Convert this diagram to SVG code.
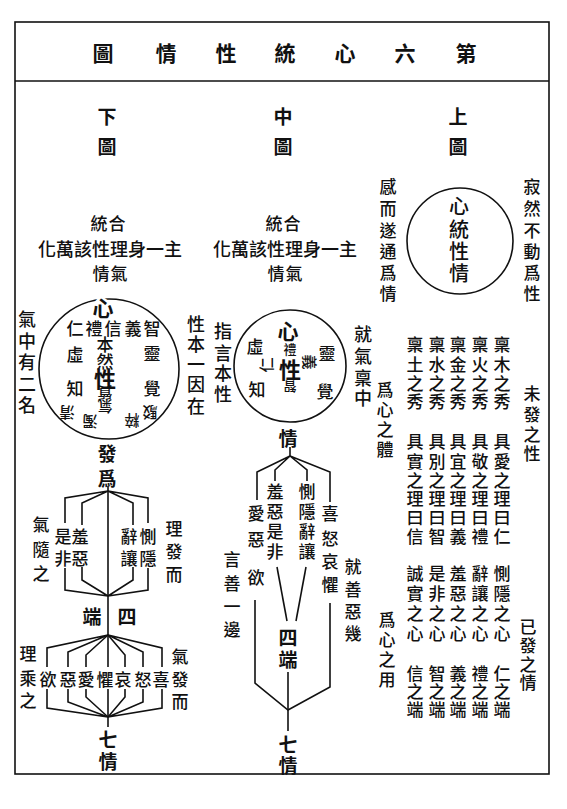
<svg xmlns="http://www.w3.org/2000/svg" width="567" height="809" viewBox="0 0 567 809">
<style>
text{font-family:"Noto Sans CJK TC","Noto Sans CJK SC",sans-serif;fill:#111;text-anchor:middle;dominant-baseline:central;font-size:17px;font-weight:500}
.t{font-size:21px;font-weight:bold}
.h{font-size:19px;font-weight:bold}
.big{font-size:22px;font-weight:bold}
.sm{font-size:13px}
.r{font-size:15px}
.ko{stroke:#fff;stroke-width:5px;paint-order:stroke}
.ln{fill:none;stroke:#111;stroke-width:1.6}
</style>
<rect width="567" height="809" fill="#fff"/>
<g id="frame">
<rect x="15" y="22" width="534" height="752" class="ln" stroke-width="2"/>
<line x1="15" y1="81" x2="549" y2="81" class="ln" stroke-width="2"/>
</g>
<g id="title"><text class="t" x="103 166 226 285 345 405 466" y="52">圖情性統心六第</text></g>
<g id="headers">
<text class="h" x="107 107" y="115 145">下圖</text>
<text class="h" x="283 283" y="115 145">中圖</text>
<text class="h" x="458 458" y="115 145">上圖</text>
</g>
<g id="upper-diagram">
<circle cx="460" cy="241" r="53" class="ln"/>
<text x="459 459 459 459" y="205 228 250 272" style="font-size:20px">心統性情</text>
<text x="388 388 388 388 388 388" y="185 207 229 250 271 292">感而遂通爲情</text>
<text x="532 532 532 532 532 532" y="185 207 229 250 271 292">寂然不動爲性</text>
</g>
<g id="upper-text">
<text x="502 502 502 502" y="343 363 382 400">稟木之秀</text>
<text x="480 480 480 480" y="343 363 382 400">稟火之秀</text>
<text x="458 458 458 458" y="343 363 382 400">稟金之秀</text>
<text x="437 437 437 437" y="343 363 382 400">稟水之秀</text>
<text x="415 415 415 415" y="343 363 382 400">稟土之秀</text>
<text x="502 502 502 502 502 502" y="440 460 479 497 516 535">具愛之理曰仁</text>
<text x="480 480 480 480 480 480" y="440 460 479 497 516 535">具敬之理曰禮</text>
<text x="458 458 458 458 458 458" y="440 460 479 497 516 535">具宜之理曰義</text>
<text x="437 437 437 437 437 437" y="440 460 479 497 516 535">具別之理曰智</text>
<text x="415 415 415 415 415 415" y="440 460 479 497 516 535">具實之理曰信</text>
<text x="502 502 502 502" y="572 592 612 632">惻隱之心</text>
<text x="480 480 480 480" y="572 592 612 632">辭讓之心</text>
<text x="458 458 458 458" y="572 592 612 632">羞惡之心</text>
<text x="437 437 437 437" y="572 592 612 632">是非之心</text>
<text x="415 415 415 415" y="572 592 612 632">誠實之心</text>
<text x="502 502 502" y="672 690 708">仁之端</text>
<text x="480 480 480" y="672 690 708">禮之端</text>
<text x="458 458 458" y="672 690 708">義之端</text>
<text x="437 437 437" y="672 690 708">智之端</text>
<text x="415 415 415" y="672 690 708">信之端</text>
<text x="532 532 532 532" y="392 413 433 452">未發之性</text>
<text x="385 385 385 385" y="388 408 428 448">爲心之體</text>
<text x="528 528 528 528" y="625 644 663 681">已發之情</text>
<text x="387 387 387 387" y="618 638 658 678">爲心之用</text>
</g>
<g id="lower-summary">
<text x="99 117" y="222">統合</text>
<text x="47 65 83 101 119 137 155 173" y="248" style="font-size:18px">化萬該性理身一主</text>
<text x="101 119" y="272">情氣</text>
</g>
<g id="middle-summary">
<text x="274 292" y="222">統合</text>
<text x="222 240 258 276 294 312 330 348" y="248" style="font-size:18px">化萬該性理身一主</text>
<text x="276 294" y="272">情氣</text>
</g>
<g id="lower-circle">
<circle cx="109" cy="369" r="70" class="ln"/>
<text class="ko" x="103" y="307" style="font-size:21px;font-weight:bold">心</text>
<text x="75 94 113 133 152" y="327">仁禮信義智</text>
<text x="75" y="353">虛</text><text x="75" y="387">知</text>
<text x="152" y="352">靈</text><text x="152" y="387">覺</text>
<text x="105 105" y="343 360">本然</text>
<text class="big" x="105" y="377">性</text>
<text class="r" transform="rotate(180 105 393)" x="105" y="393">質</text>
<text class="r" transform="rotate(180 105 407)" x="105" y="407">氣</text>
<text class="r" transform="rotate(180 67 413)" x="67" y="413">清</text>
<text class="r" transform="rotate(180 90 422)" x="90" y="422">濁</text>
<text class="r" transform="rotate(180 132 421)" x="132" y="421">粹</text>
<text class="r" transform="rotate(180 150 413)" x="150" y="413">駁</text>
<text x="27 27 27 27 27" y="318 340 361 383 404" style="font-size:18px">氣中有二名</text>
<text x="196 196 196 196 196" y="323 343 363 383 405" style="font-size:18px">性本一因在</text>
<text class="h" x="107 107" y="452 477">發爲</text>
</g>
<g id="lower-four">
<text x="63 80" y="535">是羞</text>
<text x="63 80" y="557">非惡</text>
<text x="129 148" y="535">辭惻</text>
<text x="129 148" y="557">讓隱</text>
<text x="41 41 41" y="523 548 572">氣隨之</text>
<text x="174 174 174" y="527 550 573">理發而</text>
<text class="h" x="92 127" y="615">端四</text>
</g>
<g id="lower-seven">
<text x="48 68 86 105 123 143 161" y="678">欲惡愛懼哀怒喜</text>
<text x="28 28 28" y="652 677 699">理乘之</text>
<text x="180 180 180" y="655 678 700">氣發而</text>
<text class="h" x="108 108" y="738 760">七情</text>
</g>
<g id="middle-circle">
<circle cx="290" cy="366" r="56" class="ln"/>
<text x="288" y="330" style="font-size:21px;font-weight:bold">心</text>
<text class="sm" x="290" y="348">禮</text>
<text class="big" x="290" y="368">性</text>
<text class="sm" transform="rotate(180 290 387)" x="290" y="387">智</text>
<text class="r" transform="rotate(-90 265 365)" x="265" y="365">仁</text>
<text class="r" transform="rotate(90 310 362)" x="310" y="362">義</text>
<text x="255" y="345">虛</text><text x="257" y="388">知</text>
<text x="327" y="352">靈</text><text x="325" y="390">覺</text>
<text x="223 223 223 223" y="330 352 372 393" style="font-size:18px">指言本性</text>
<text x="363 363 363 363" y="333 355 377 397" style="font-size:18px">就氣稟中</text>
<text class="h" x="288" y="437">情</text>
</g>
<g id="middle-lower">
<text x="256 256 256" y="512 538 576">愛惡欲</text>
<text x="275 275 275 275" y="490 510 530 550">羞惡是非</text>
<text x="307 307 307 307" y="490 510 530 550">惻隱辭讓</text>
<text x="330 330 330 330" y="512 537 560 583">喜怒哀懼</text>
<text x="232 232 232 232" y="558 582 605 628">言善一邊</text>
<text x="353 353 353 353" y="565 588 610 632">就善惡幾</text>
<text class="h" x="288 288" y="636 658">四端</text>
<text class="h" x="288 288" y="743 764">七情</text>
</g>
<g id="connectors" class="ln">
<polyline points="108,486 108,635"/>
<polyline points="65,523 65,498 108,491 82,503 82,525"/>
<polyline points="148,523 148,498 108,491 133,503 133,525"/>
<polyline points="65,568 65,590 108,596 82,580 82,567"/>
<polyline points="148,568 148,590 108,596 133,580 133,567"/>
<polyline points="47,667 47,648 108,635 68,652 68,667"/>
<polyline points="86,667 86,655 108,635"/>
<polyline points="162,667 162,648 108,635 143,652 143,667"/>
<polyline points="125,667 125,655 108,635"/>
<polyline points="108,635 108,667"/>
<polyline points="47,689 47,708 108,717 68,702 68,689"/>
<polyline points="86,689 86,697 108,717"/>
<polyline points="162,689 162,708 108,717 143,702 143,689"/>
<polyline points="125,689 125,697 108,717"/>
<polyline points="108,689 108,727"/>
<polyline points="290,447 290,456"/>
<polyline points="257,500 257,472 290,456 275,470 275,481"/>
<polyline points="330,502 330,472 290,456 307,470 307,481"/>
<polyline points="255,600 255,683 288,710 330,687 330,603"/>
<polyline points="277,567 287,621"/>
<polyline points="306,567 296,621"/>
<polyline points="288,672 288,731"/>
</g>
</svg>
